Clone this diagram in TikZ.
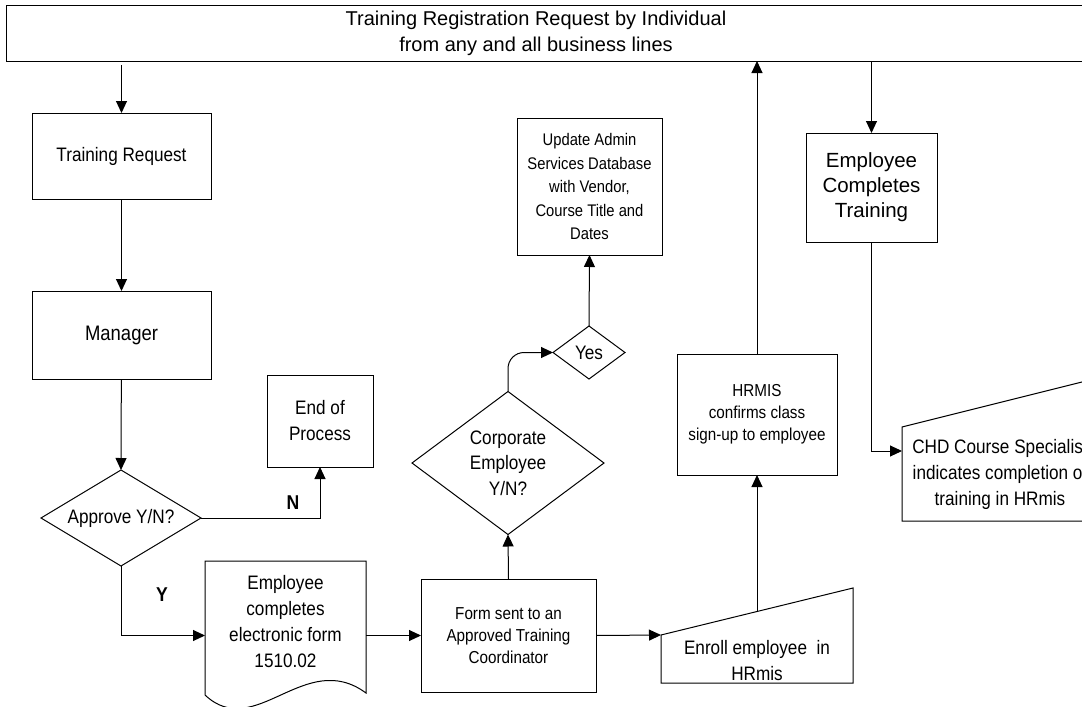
\documentclass[tikz,border=0pt]{standalone}
\usepackage{fontspec}
\setmainfont{Liberation Sans}
\newfontfamily\nf{Liberation Sans}[FakeStretch=0.88]
\usetikzlibrary{arrows.meta,shapes.geometric,calc}
\newcommand\mainfnt{\nf\fontsize{19.5pt}{26pt}\selectfont}
\newcommand\smallfnt{\nf\fontsize{17.3pt}{22pt}\selectfont}
\begin{document}
\begin{tikzpicture}[x=1pt,y=-1pt,
  line width=1pt,
  every node/.style={inner sep=0pt, outer sep=0pt},
  box/.style={draw, rectangle, align=center, font=\mainfnt},
  sbox/.style={draw, rectangle, align=center, font=\smallfnt},
  dia/.style={draw, diamond},
  yn/.style={font=\nf\bfseries\fontsize{20pt}{24pt}\selectfont},
  flow/.style={-{Triangle[length=12pt,width=11pt]}}
]
\useasboundingbox (0,0) rectangle (1082,707);
\clip (0,0) rectangle (1082,707);

% title bar
\node[draw, minimum width=1078pt, minimum height=56pt,
      label={[font=\fontsize{20pt}{26pt}\selectfont, align=center, xshift=-9pt]center:Training Registration Request by Individual\\from any and all business lines}]
  (top) at (545,33) {};

% left column
\node[box, minimum width=179pt, minimum height=86pt] (treq) at (121.5,156) {Training Request};
\node[box, minimum width=179pt, minimum height=88pt,
      font=\nf\fontsize{21pt}{26pt}\selectfont] (mgr) at (121.5,335) {Manager};
\node[dia, minimum width=160pt, minimum height=96pt,
      label={[font=\mainfnt]center:Approve Y/N?}] (appr) at (121,518) {};
\node[box, minimum width=106pt, minimum height=92pt] (endp) at (320,421) {End of\\Process};

% document shape
\node[minimum width=161pt, minimum height=121pt, align=center,
      font=\nf\fontsize{19.5pt}{25.7pt}\selectfont] (doc) at (285.5,621.5)
  {Employee\\completes\\electronic form\\1510.02};
\draw ($(doc.south west)+(0,13)$) -- (doc.north west) -- (doc.north east)
  -- ($(doc.south east)+(0,11)$)
  .. controls (305,648) and (255,742) .. ($(doc.south west)+(0,13)$);

% middle column
\node[sbox, minimum width=175pt, minimum height=113pt] (form) at (508.5,635.5)
  {Form sent to an\\Approved Training\\Coordinator};
\node[dia, minimum width=192pt, minimum height=143pt,
      label={[font=\nf\fontsize{19.5pt}{25.5pt}\selectfont, align=center]center:Corporate\\Employee\\Y/N?}]
  (corp) at (508,463) {};
\node[dia, minimum width=72pt, minimum height=53pt,
      label={[font=\mainfnt]center:Yes}] (yes) at (589,352.5) {};
\node[draw, minimum width=145pt, minimum height=137pt, align=center,
      font=\nf\fontsize{16.8pt}{23.5pt}\selectfont] (upd) at (589.5,186.5)
  {Update Admin\\Services Database\\with Vendor,\\Course Title and\\Dates};

% manual input: enrol
\node[minimum width=192pt, minimum height=95pt,
      label={[font=\mainfnt, align=center, yshift=-25pt]center:Enroll employee\ \ in\\HRmis}]
  (enr) at (757,635.5) {};
\coordinate (enrin) at ($(enr.south west)+(0,-48)$);
\draw (enr.south west) -- (enrin) -- (enr.north east) -- (enr.south east) -- cycle;
\coordinate (enrtop) at ($(enrin)!0.5!(enr.north east)$);

\node[sbox, minimum width=160pt, minimum height=121pt] (hrmis) at (757,414.5)
  {HRMIS\\confirms class\\sign-up to employee};

% right column
\node[draw, minimum width=131pt, minimum height=109pt, align=center,
      font=\fontsize{20.5pt}{25pt}\selectfont] (ect) at (871.5,187.5)
  {Employee\\Completes\\Training};
\node[align=center, font=\mainfnt] (chd) at (1000,474)
  {CHD Course Specialist\\indicates completion of\\training in HRmis};
\draw (902,521) -- (902,427) -- (1190,355) -- (1190,521) -- cycle;
\coordinate (chdin) at (902,451);

% connectors
\draw[flow] ([yshift=-4pt]top.south -| treq.north) -- (treq.north);
\draw[flow] (treq) -- (mgr);
\draw[flow] (mgr) -- (appr.north);
\draw[flow] (appr.east) -| (endp.south);
\node[yn] at (293,503) {N};
\draw[flow] (appr.south) |- (doc.west |- form.west);
\node[yn] at (162,595) {Y};
\draw[flow] (form.west -| doc.east) -- (form.west);
\draw[flow] (form.north) -- (corp.south);
\draw[flow, rounded corners=16pt] (corp.north) |- (yes.west);
\draw[flow] (yes.north) -- (upd.south);
\draw[flow] (form.east) -- (enrin);
\draw[flow] (enrtop) -- (hrmis.south);
\draw[flow] (hrmis.north) -- (hrmis.north |- top.south);
\draw[flow] (top.south -| ect.north) -- (ect.north);
\draw[flow] (ect.south) |- (chdin);
\end{tikzpicture}
\end{document}
